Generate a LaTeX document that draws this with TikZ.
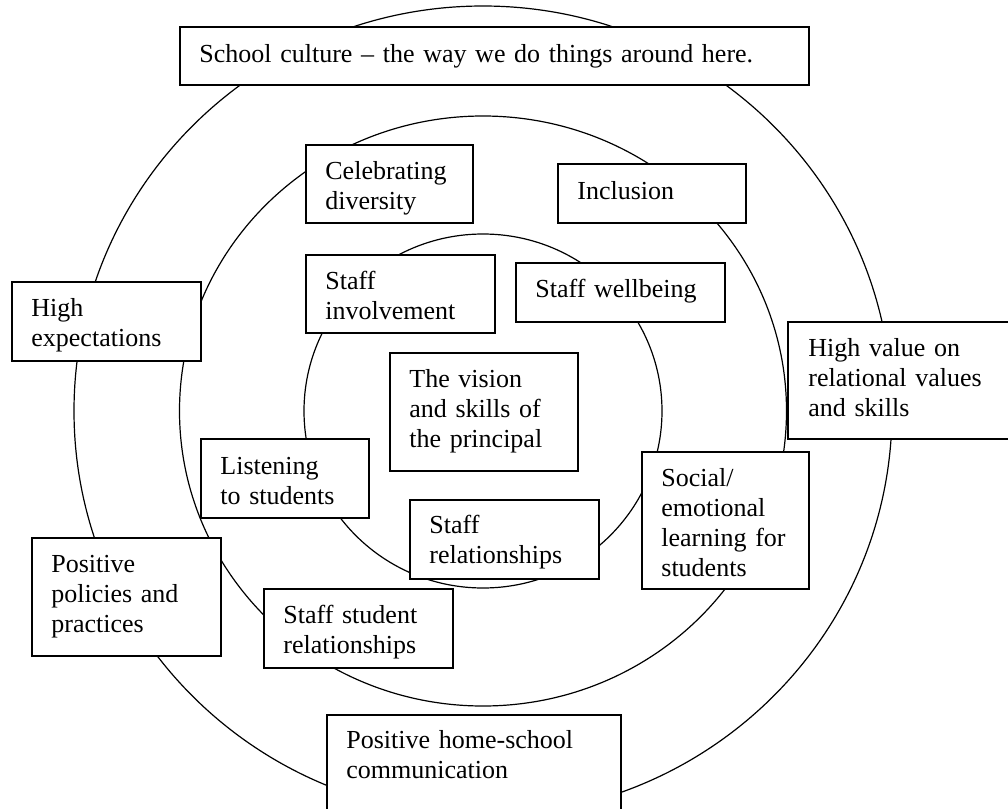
\documentclass[tikz,border=0pt]{standalone}
\usepackage{fontspec}
\setmainfont{Liberation Serif}
\begin{document}
\begin{tikzpicture}[x=0.5pt,y=-0.5pt,
  ring/.style={draw=black,line width=0.6pt},
  boxframe/.style={draw=black,fill=white,line width=0.8pt,inner sep=0pt,anchor=north west},
  lbl/.style={anchor=base west,inner sep=0pt,text width=330pt,align=left,font=\fontsize{13pt}{15pt}\selectfont}
]
\useasboundingbox (0,0) rectangle (1008,809);
\clip (0,0) rectangle (1008,809);
\fill[white] (0,0) rectangle (1008,809);
\coordinate (c) at (483,411);
\draw[ring] (c) ellipse [x radius=204.5pt, y radius=202.5pt];
\draw[ring] (c) ellipse [x radius=151.75pt, y radius=147.5pt];
\draw[ring] (c) ellipse [x radius=89.5pt, y radius=88.5pt];

\node[boxframe,minimum width=314.5pt,minimum height=29pt] (b1) at (179,26) {};
\node[lbl] (t1) at ([shift={(20,36)}]b1.north west) {School culture – the way we do things around here.};

\node[boxframe,minimum width=83.5pt,minimum height=39pt] (b2) at (305,144) {};
\node[lbl] (t2) at ([shift={(20,35)}]b2.north west) {Celebrating\\diversity};

\node[boxframe,minimum width=94pt,minimum height=29.5pt] (b3) at (557,163) {};
\node[lbl] (t3) at ([shift={(20,36)}]b3.north west) {Inclusion};

\node[boxframe,minimum width=94.5pt,minimum height=39pt] (b4) at (305,254) {};
\node[lbl] (t4) at ([shift={(20,35)}]b4.north west) {Staff\\involvement};

\node[boxframe,minimum width=104.5pt,minimum height=29.5pt] (b5) at (515,262) {};
\node[lbl] (t5) at ([shift={(20,35)}]b5.north west) {Staff wellbeing};

\node[boxframe,minimum width=94.5pt,minimum height=39.5pt] (b6) at (11,281) {};
\node[lbl] (t6) at ([shift={(20,35)}]b6.north west) {High\\expectations};

\node[boxframe,minimum width=115pt,minimum height=58.5pt] (b7) at (787,321) {};
\node[lbl] (t7) at ([shift={(21,35)}]b7.north west) {High value on\\relational values\\and skills};

\node[boxframe,minimum width=94pt,minimum height=59pt] (b8) at (389,352) {};
\node[lbl] (t8) at ([shift={(20,35)}]b8.north west) {The vision\\and skills of\\the principal};

\node[boxframe,minimum width=84pt,minimum height=39.5pt] (b9) at (200,438) {};
\node[lbl] (t9) at ([shift={(20,36)}]b9.north west) {Listening\\to students};

\node[boxframe,minimum width=83.5pt,minimum height=68.5pt] (b10) at (641,451) {};
\node[lbl] (t10) at ([shift={(20,35)}]b10.north west) {Social/\\emotional\\learning for\\students};

\node[boxframe,minimum width=94.5pt,minimum height=39.5pt] (b11) at (409,499) {};
\node[lbl] (t11) at ([shift={(20,34)}]b11.north west) {Staff\\relationships};

\node[boxframe,minimum width=94.5pt,minimum height=59pt] (b12) at (31,537) {};
\node[lbl] (t12) at ([shift={(20,35)}]b12.north west) {Positive\\policies and\\practices};

\node[boxframe,minimum width=94.5pt,minimum height=39.5pt] (b13) at (263,588) {};
\node[lbl] (t13) at ([shift={(20,35)}]b13.north west) {Staff student\\relationships};

\node[boxframe,minimum width=147pt,minimum height=60pt] (b14) at (326,714) {};
\node[lbl] (t14) at ([shift={(20,34)}]b14.north west) {Positive home-school\\communication};
\end{tikzpicture}
\end{document}
